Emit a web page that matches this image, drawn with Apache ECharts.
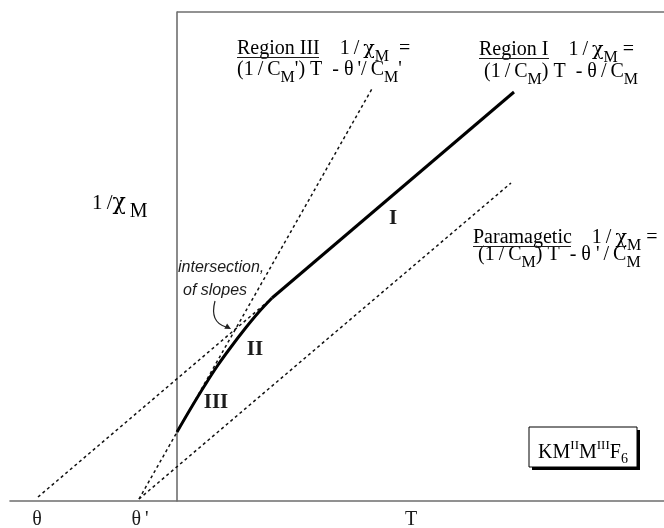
<!DOCTYPE html>
<html>
<head>
<meta charset="utf-8">
<script src="https://cdn.jsdelivr.net/npm/echarts@6/dist/echarts.min.js"></script>
<style>
html, body { margin: 0; padding: 0; background: #fff; }
#chart { width: 664px; height: 528px; }
</style>
</head>
<body>
<div id="chart"></div>
<script>
// schematic units: T to the right of the 1/chi axis, 1/chi above the T axis
var tRange = [-167, 487];
var chiRange = [0, 489];

// measured curve through regions III and II, then the straight region I
var curveT = [0, 14, 28, 41, 54, 67, 81, 95];
var curveChi = [69, 93, 116, 136, 154, 171, 188, 203];
var region1T = [95, 337];
var region1Chi = [203, 409];

// extrapolated slopes (dashed)
var thetaT = [-139, 95];
var thetaChi = [4, 203];
var region3T = [-38, 196];
var region3Chi = [2, 414];
var paraT = [-38, 334];
var paraChi = [2, 318];

// top edge of the frame
var frameT = [0, 487];
var frameChi = [489, 489];

// tick labels
var xTickValues = [-140, -37, 234];
var xTickLabels = ['θ', 'θ\u2009\'', 'T'];

var serif = 'Liberation Serif';
var ink = '#1c1c1c';
var axisGrey = '#6e6e6e';

function pts(xs, ys) {
    return xs.map(function (x, i) { return [x, ys[i]]; });
}

var rich = {
    n: { fontFamily: serif, fontSize: 20, color: ink },
    x: { fontFamily: 'DejaVu Serif', fontSize: 19, color: ink },
    s: { fontFamily: serif, fontSize: 16, color: ink, padding: [16, 0, 0, 0] }
};

function formula(x, y, text) {
    return {
        type: 'text', x: x, y: y,
        style: { text: text, rich: rich, align: 'left', verticalAlign: 'middle' }
    };
}
function underline(x1, x2, y) {
    return {
        type: 'line',
        shape: { x1: x1, y1: y, x2: x2, y2: y },
        style: { stroke: ink, lineWidth: 1 }
    };
}
function roman(x, y, text) {
    return {
        type: 'text', x: x, y: y,
        style: { text: text, font: 'bold 21px "Liberation Serif"', fill: ink, align: 'center', verticalAlign: 'middle' }
    };
}
function dashed(name, xs, ys) {
    return {
        name: name, type: 'line', data: pts(xs, ys), showSymbol: false, silent: true,
        lineStyle: { color: '#111', width: 1.5, type: [3, 3] }, z: 2
    };
}

var chart = echarts.init(document.getElementById('chart'));
var option = {
    animation: false,
    grid: { left: 10, right: 0, top: 12, bottom: 27, containLabel: false, outerBoundsMode: 'none' },
    xAxis: {
        type: 'value', min: tRange[0], max: tRange[1],
        axisLine: { lineStyle: { color: axisGrey, width: 1.6 } },
        axisTick: { show: false },
        splitLine: { show: false },
        axisLabel: {
            customValues: xTickValues,
            formatter: function (v) { return xTickLabels[xTickValues.indexOf(v)]; },
            margin: 9, fontFamily: serif, fontSize: 20, color: ink
        }
    },
    yAxis: {
        type: 'value', min: chiRange[0], max: chiRange[1],
        axisLine: { onZero: true, lineStyle: { color: axisGrey, width: 1.6 } },
        axisTick: { show: false },
        splitLine: { show: false },
        axisLabel: { show: false }
    },
    series: [
        {
            name: 'frame', type: 'line', data: pts(frameT, frameChi), showSymbol: false,
            silent: true, clip: false, lineStyle: { color: axisGrey, width: 1.6 }
        },
        dashed('theta', thetaT, thetaChi),
        dashed('region III slope', region3T, region3Chi),
        dashed('paramagnetic', paraT, paraChi),
        {
            name: 'regions III-II', type: 'line', data: pts(curveT, curveChi), smooth: 0.4,
            showSymbol: false, silent: true, lineStyle: { color: '#000', width: 3 }, z: 3
        },
        {
            name: 'region I', type: 'line', data: pts(region1T, region1Chi),
            showSymbol: false, silent: true, lineStyle: { color: '#000', width: 3 }, z: 3
        }
    ],
    graphic: [
        // y axis title
        {
            type: 'text', x: 92, y: 203.5,
            style: {
                text: '{n|1\u2009/}{x|χ}{s|\u2009M}', align: 'left', verticalAlign: 'middle',
                rich: {
                    n: { fontFamily: serif, fontSize: 21, color: ink },
                    x: { fontFamily: 'DejaVu Serif', fontSize: 22, color: ink },
                    s: { fontFamily: serif, fontSize: 20, color: ink, padding: [16, 0, 0, 0] }
                }
            }
        },
        formula(237, 48.7, '{n|Region III    1\u2009/\u2009}{x|χ}{s|M}{n|  =}'),
        formula(237, 69.7, '{n|(1\u2009/\u2009C}{s|M}{n|\') T  - θ\u2009\'/\u2009C}{s|M}{n|\'}'),
        underline(237, 319, 57.5),
        formula(479, 49.7, '{n|Region I    1\u2009/\u2009}{x|χ}{s|M}{n| =}'),
        formula(484, 71.7, '{n|(1\u2009/\u2009C}{s|M}{n|) T  - θ\u2009/\u2009C}{s|M}'),
        underline(479, 549, 58.5),
        formula(473, 237.7, '{n|Paramagetic    1\u2009/\u2009}{x|χ}{s|M}{n| =}'),
        formula(478, 254.7, '{n|(1\u2009/\u2009C}{s|M}{n|) T  - θ \'\u2009/\u2009C}{s|M}'),
        underline(473, 571, 246.5),
        roman(393, 219, 'I'),
        roman(255, 350, 'II'),
        roman(216, 403, 'III'),
        {
            type: 'text', x: 178, y: 268,
            style: { text: 'intersection,', font: 'italic 16px "Liberation Sans"', fill: ink, verticalAlign: 'middle' }
        },
        {
            type: 'text', x: 183, y: 291,
            style: { text: 'of slopes', font: 'italic 16px "Liberation Sans"', fill: ink, verticalAlign: 'middle' }
        },
        {
            type: 'bezierCurve',
            shape: { x1: 215, y1: 301, cpx1: 211, cpy1: 316, cpx2: 216, cpy2: 324, x2: 226, y2: 327 },
            style: { stroke: '#222', lineWidth: 1.2, fill: null }
        },
        {
            type: 'polygon',
            shape: { points: [[231, 329], [224.3, 328.7], [227.1, 323.5]] },
            style: { fill: '#222' }
        },
        {
            type: 'rect',
            shape: { x: 532, y: 430, width: 108, height: 40 },
            style: { fill: '#000' }
        },
        {
            type: 'rect',
            shape: { x: 529, y: 427, width: 108, height: 40 },
            style: { fill: '#fff', stroke: '#000', lineWidth: 1 }
        },
        {
            type: 'text', x: 583, y: 453,
            style: {
                text: '{n|KM}{p|II}{n|M}{p|III}{n|F}{b|6}',
                align: 'center', verticalAlign: 'middle',
                rich: {
                    n: { fontFamily: serif, fontSize: 20, color: ink },
                    p: { fontFamily: serif, fontSize: 13, color: ink, padding: [0, 0, 14, 0] },
                    b: { fontFamily: serif, fontSize: 14, color: ink, padding: [12, 0, 0, 0] }
                }
            }
        }
    ]
};
chart.setOption(option);
window.onresize = function () {
    chart.resize();
};
</script>
</body>
</html>
